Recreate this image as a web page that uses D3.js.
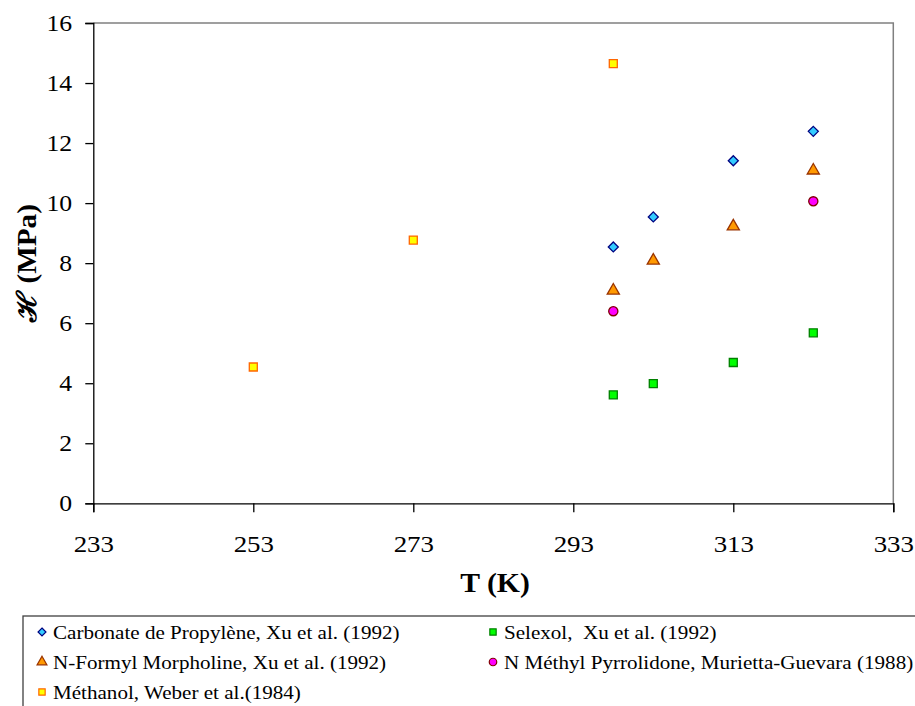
<html>
<head>
<meta charset="utf-8">
<script src="https://d3js.org/d3.v7.min.js"></script>
<style>
body { margin: 0; background: #fff; }
text { font-family: "Liberation Serif", "Times New Roman", serif; fill: #000; }
.tick text { font-size: 23px; }
.title { font-size: 27px; font-weight: bold; }
.leg { font-size: 19px; }
</style>
</head>
<body>
<script>
// temperatures (K) and Henry constants (MPa)
var tempXu = [298, 303, 313, 323];
var carbonate = [8.54, 9.54, 11.41, 12.39];
var selexol = [3.61, 3.99, 4.69, 5.68];
var formyl = [7.12, 8.12, 9.26, 11.12];
var tempNmp = [298, 323];
var nmp = [6.40, 10.06];
var tempMeoh = [253, 273, 298];
var methanol = [4.54, 8.77, 14.65];

var xTicks = [233, 253, 273, 293, 313, 333];
var yTicks = [0, 2, 4, 6, 8, 10, 12, 14, 16];

var series = [
  {name: 'Carbonate de Propylène, Xu et al. (1992)', t: tempXu, h: carbonate, shape: 'diamond', fill: '#33ccff', stroke: '#000080'},
  {name: 'Selexol,  Xu et al. (1992)', t: tempXu, h: selexol, shape: 'square', fill: '#00ff00', stroke: '#008000'},
  {name: 'N-Formyl Morpholine, Xu et al. (1992)', t: tempXu, h: formyl, shape: 'triangle', fill: '#ff9900', stroke: '#993300'},
  {name: 'N Méthyl Pyrrolidone, Murietta-Guevara (1988)', t: tempNmp, h: nmp, shape: 'circle', fill: '#ff00ff', stroke: '#800000'},
  {name: 'Méthanol, Weber et al.(1984)', t: tempMeoh, h: methanol, shape: 'square', fill: '#ffff00', stroke: '#ff6600'}
];

var W = 915, H = 706;
var pL = 93.3, pR = 893.3, pT = 23, pB = 503.3;

var svg = d3.select('body').append('svg')
  .attr('width', W).attr('height', H);

var x = d3.scaleLinear().domain([233, 333]).range([pL, pR]);
var y = d3.scaleLinear().domain([0, 16]).range([pB, pT]);

// plot frame (top/right grey)
svg.append('path')
  .attr('d', 'M' + pL + ',' + pT + 'H' + pR + 'V' + pB)
  .attr('fill', 'none').attr('stroke', '#808080').attr('stroke-width', 1.5);

var xAxis = svg.append('g')
  .attr('transform', 'translate(0,' + pB + ')')
  .call(d3.axisBottom(x).tickValues(xTicks).tickSize(9).tickPadding(18).tickFormat(d3.format('d')));
var yAxis = svg.append('g')
  .attr('transform', 'translate(' + pL + ',0)')
  .call(d3.axisLeft(y).tickValues(yTicks).tickSize(8).tickPadding(9).tickFormat(d3.format('d')));

[xAxis, yAxis].forEach(function(a) {
  a.attr('font-family', null).attr('font-size', null);
  a.select('.domain').attr('stroke', '#000').attr('stroke-width', 1.3);
  a.selectAll('.tick line').attr('stroke', '#000').attr('stroke-width', 1.3);
});
// Excel-style wide serif digits
xAxis.selectAll('.tick text').attr('transform', 'scale(1.17,1)').attr('y', 32);
yAxis.selectAll('.tick text').attr('transform', 'scale(1.12,1)').attr('x', -20 / 1.12 - 1);

svg.append('text').attr('class', 'title')
  .attr('transform', 'translate(495,592) scale(1.1,1)')
  .attr('text-anchor', 'middle')
  .text('T (K)');

svg.append('text').attr('class', 'title')
  .attr('transform', 'translate(36,263) rotate(-90) scale(1.08,1)')
  .attr('text-anchor', 'middle')
  .text('\u210B (MPa)');

function symbolFor(shape, size) {
  var t = {diamond: d3.symbolDiamond2 || d3.symbolDiamond, square: d3.symbolSquare, triangle: d3.symbolTriangle, circle: d3.symbolCircle}[shape];
  return d3.symbol().type(t).size(size)();
}
var sizes = {diamond: 64, square: 64, triangle: 64, circle: 66};

series.forEach(function(s) {
  var pts = s.t.map(function(t, i) { return [t, s.h[i]]; });
  svg.append('g').selectAll('path')
    .data(pts).enter().append('path')
    .attr('d', symbolFor(s.shape, sizes[s.shape]))
    .attr('transform', function(d) {
      var dy = s.shape === 'triangle' ? 1 : 0;
      return 'translate(' + x(d[0]) + ',' + (y(d[1]) + dy) + ')';
    })
    .attr('fill', s.fill).attr('stroke', s.stroke).attr('stroke-width', 1.3);
});

// legend box (runs off the right/bottom edge)
svg.append('rect')
  .attr('x', 23).attr('y', 616).attr('width', 1000).attr('height', 200)
  .attr('fill', 'none').attr('stroke', '#404040').attr('stroke-width', 1.3);

var legSmall = {diamond: 40, square: 40, triangle: 42, circle: 44};
var leg = svg.selectAll('.legItem')
  .data(series).enter().append('g')
  .attr('class', 'legItem')
  .attr('transform', function(d, i) {
    return 'translate(' + (i % 2 ? 493 : 42) + ',' + (632 + Math.floor(i / 2) * 30) + ')';
  });
leg.append('path')
  .attr('d', function(d) { return symbolFor(d.shape, legSmall[d.shape]); })
  .attr('fill', function(d) { return d.fill; })
  .attr('stroke', function(d) { return d.stroke; })
  .attr('stroke-width', 1.2);
leg.append('text').attr('class', 'leg')
  .attr('transform', 'translate(11,6.5) scale(1.11,1)')
  .style('white-space', 'pre')
  .text(function(d) { return d.name; });
</script>
</body>
</html>
